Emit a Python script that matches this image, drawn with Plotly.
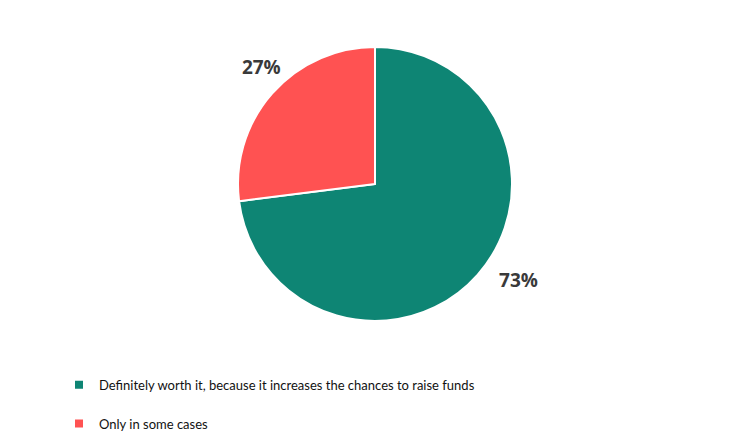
import plotly.graph_objects as go

labels = ["Definitely worth it, because it increases the chances to raise funds", "Only in some cases"]
values = [73, 27]
colors = ["#0E8574", "#FF5252"]

label_font = dict(family="Open Sans", size=19, color="#3a3a3a", weight="bold")

fig = go.Figure()

fig.add_trace(
    go.Pie(
        labels=labels,
        values=values,
        sort=False,
        direction="clockwise",
        rotation=0,
        marker=dict(colors=colors, line=dict(color="white", width=2)),
        textposition="outside",
        texttemplate=["&nbsp;&nbsp;&nbsp;%{value}%", ""],
        textfont=label_font,
        showlegend=False,
        domain=dict(x=[230 / 750, 504 / 750], y=[1 - 313 / 448, 1 - 39 / 448]),
        hoverinfo="label+percent",
    )
)

# see-through copy of the pie, only used to place the small slice's label
fig.add_trace(
    go.Pie(
        labels=labels,
        values=values,
        sort=False,
        direction="clockwise",
        rotation=0,
        marker=dict(colors=["rgba(0,0,0,0)"] * 2, line=dict(width=0)),
        textposition="outside",
        texttemplate=["", "%{value}%"],
        textfont=label_font,
        showlegend=False,
        domain=dict(x=[245 / 750, 519 / 750], y=[1 - 292 / 448, 1 - 18 / 448]),
        hoverinfo="skip",
    )
)

# legend entries, one group each so the gap between them can be set
for i, (name, color) in enumerate(zip(labels, colors)):
    fig.add_trace(
        go.Scatter(
            x=[None], y=[None],
            mode="markers",
            marker=dict(symbol="square", size=8, color=color),
            name=name,
            legendgroup=f"g{i}",
            showlegend=True,
        )
    )

fig.update_layout(
    width=750,
    height=448,
    margin=dict(l=0, r=0, t=0, b=0),
    paper_bgcolor="white",
    plot_bgcolor="white",
    xaxis=dict(visible=False),
    yaxis=dict(visible=False),
    legend=dict(
        x=0.068, y=0.1925,
        xanchor="left", yanchor="top",
        font=dict(family="Lato", size=13, color="#111111"),
        tracegroupgap=19,
        itemwidth=30,
    ),
)

fig.write_html("out.html")
